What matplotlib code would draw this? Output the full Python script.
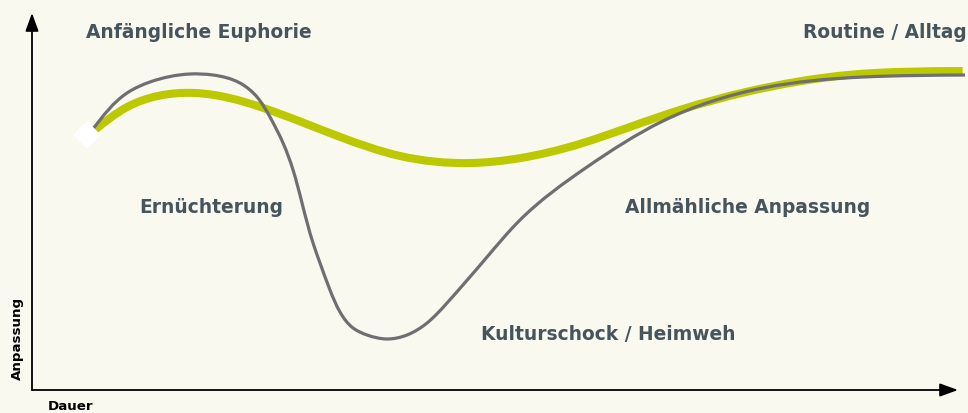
import numpy as np
import matplotlib
matplotlib.use("Agg")
import matplotlib.pyplot as plt
from matplotlib.path import Path
from matplotlib.patches import PathPatch

# ---- data (duration 0-100, adjustment 0-100) ----
green_x = [6.8, 10.3, 17.4, 25.0, 33.3, 39.7, 47.3, 52.7, 59.2, 64.6, 70.0,
           77.2, 88.3, 100.5]
green_y = [69.0, 75.1, 78.8, 74.8, 67.1, 62.1, 60.2, 61.5, 65.3, 69.8, 74.3,
           79.1, 83.6, 84.6]

gray_x = [6.59, 10.26, 12.74, 17.06, 19.55, 22.46, 24.30, 25.70, 27.11, 28.19,
          29.16, 30.35, 31.10, 32.18, 33.26, 34.67, 36.18, 38.34, 40.50, 42.66,
          44.82, 49.14, 52.70, 59.94, 68.14, 78.94, 89.74, 100.76]
gray_y = [69.23, 78.78, 81.70, 83.82, 83.55, 81.43, 77.72, 72.41, 65.52, 58.36,
          49.60, 38.99, 33.69, 26.53, 20.69, 16.45, 14.59, 13.53, 14.59, 17.77,
          23.08, 35.28, 45.09, 59.15, 71.35, 80.11, 83.02, 83.55]

start_x = [5.9]
start_y = [67.6]

phase_labels = ["Anfängliche Euphorie", "Routine / Alltag", "Ernüchterung",
                "Allmähliche Anpassung", "Kulturschock / Heimweh"]
phase_x = [5.8, 83.3, 11.6, 64.0, 48.5]
phase_y = [94.7, 94.7, 48.5, 48.5, 14.6]

x_label = "Dauer"
y_label = "Anpassung"

# ---- style ----
BG = "#f9f9ef"
GREEN = "#bcc800"
GRAY = "#6f6f72"
TEXT = "#46545c"
FONT = "DejaVu Sans"
SX, SY = 9.26, 3.77  # data unit -> pixel aspect, used only for curve smoothing


def smooth_path(xs, ys):
    """Natural cubic spline (chord-length parameter) through the points, as Bezier path."""
    p = np.column_stack([xs, ys]).astype(float)
    q = p * np.array([SX, SY])
    h = np.hypot(*np.diff(q, axis=0).T)
    n = len(p)
    A = np.zeros((n, n))
    r = np.zeros((n, 2))
    A[0, 0] = A[-1, -1] = 1.0
    for i in range(1, n - 1):
        A[i, i - 1] = h[i - 1]
        A[i, i] = 2 * (h[i - 1] + h[i])
        A[i, i + 1] = h[i]
        r[i] = 6 * ((p[i + 1] - p[i]) / h[i] - (p[i] - p[i - 1]) / h[i - 1])
    M = np.linalg.solve(A, r)
    verts = [p[0]]
    codes = [Path.MOVETO]
    for i in range(n - 1):
        s = (p[i + 1] - p[i]) / h[i]
        d0 = s - h[i] * (2 * M[i] + M[i + 1]) / 6
        d1 = s + h[i] * (M[i] + 2 * M[i + 1]) / 6
        verts += [p[i] + d0 * h[i] / 3, p[i + 1] - d1 * h[i] / 3, p[i + 1]]
        codes += [Path.CURVE4] * 3
    return Path(verts, codes)


fig = plt.figure(figsize=(9.68, 4.13), dpi=100, facecolor=BG)
ax = fig.add_axes([32 / 968, 23 / 413, 926 / 968, 377 / 413])
ax.set_facecolor(BG)
ax.set_xlim(0, 100)
ax.set_ylim(0, 100)
ax.axis("off")

# axes with arrows
arrow_kw = dict(arrowstyle="-|>,head_length=0.55,head_width=0.2", color="black",
                lw=1.3, shrinkA=0, shrinkB=0, mutation_scale=20)
ax.annotate("", xy=(100, 0), xytext=(0, 0), arrowprops=arrow_kw, annotation_clip=False)
ax.annotate("", xy=(0, 100), xytext=(0, 0), arrowprops=arrow_kw, annotation_clip=False)

# curves
ax.add_patch(PathPatch(smooth_path(green_x, green_y), fill=False, edgecolor=GREEN,
                       lw=5.8, capstyle="butt", clip_on=False, zorder=3))
ax.add_patch(PathPatch(smooth_path(gray_x, gray_y), fill=False, edgecolor=GRAY,
                       lw=2.3, capstyle="butt", clip_on=False, zorder=4))
ax.plot(start_x, start_y, marker="D", ms=14, color="white",
        mew=0, zorder=5, clip_on=False)

# phase labels
for lab, x, y in zip(phase_labels, phase_x, phase_y):
    ax.text(x, y, lab, ha="left", va="center", fontsize=13.4, fontweight="bold",
            color=TEXT, family=FONT)

ax.text(1.7, -4.3, x_label, ha="left", va="center", fontsize=9.6, fontweight="bold",
        color="black", family=FONT, clip_on=False)
ax.text(-1.6, 13.8, y_label, ha="center", va="center", rotation=90, fontsize=9.6,
        fontweight="bold", color="black", family=FONT, clip_on=False)

fig.savefig("out.png", dpi=100, facecolor=BG)
